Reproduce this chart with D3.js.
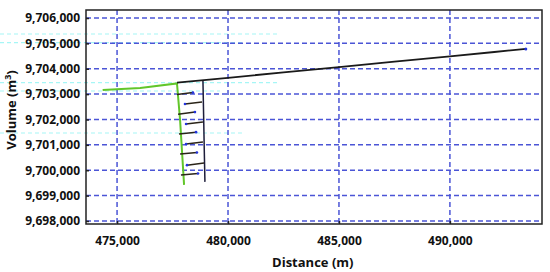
<!DOCTYPE html>
<html>
<head>
<meta charset="utf-8">
<script src="https://cdn.jsdelivr.net/npm/d3@7"></script>
<style>
  body { margin: 0; background: #fff; }
  svg { display: block; }
  text { font-family: "Open Sans", "Liberation Sans", sans-serif; font-weight: 700; fill: #111; }
</style>
</head>
<body>
<div class="canvas-container"></div>
<script>

// tick values
var xTicks = [475000, 480000, 485000, 490000];
var yTicks = [9698000, 9699000, 9700000, 9701000, 9702000, 9703000, 9704000, 9705000, 9706000];

// main channel (black)
var mainX = [477700, 480000, 482500, 485000, 487500, 490000, 492000, 493420];
var mainY = [9703450, 9703640, 9703860, 9704060, 9704280, 9704490, 9704660, 9704780];

// green inflow branch
var greenX = [474350, 476040, 477700, 477840, 477930, 478020];
var greenY = [9703160, 9703240, 9703420, 9701980, 9700700, 9699420];

// right-hand spine
var spineX = [478870, 478900, 478930, 478960];
var spineY = [9703550, 9702200, 9700800, 9699540];

// short cross ribs: start x, start y, end x, end y
var ribX1 = [477700, 478060, 477750, 478110, 477790, 478110, 477840, 478150, 477880];
var ribY1 = [9702980, 9702610, 9702210, 9701820, 9701430, 9701030, 9700640, 9700200, 9699810];
var ribX2 = [478420, 478830, 478510, 478870, 478560, 478870, 478600, 478920, 478650];
var ribY2 = [9703060, 9702690, 9702290, 9701900, 9701500, 9701110, 9700700, 9700280, 9699870];

var width = 550, height = 272;
var margin = {top: 10, right: 8, bottom: 48, left: 86};

var svg = d3.select("div.canvas-container")
    .append("svg")
    .attr("width", width)
    .attr("height", height);

var x = d3.scaleLinear().domain([473600, 494150]).range([margin.left, width - margin.right]);
var y = d3.scaleLinear().domain([9697880, 9706315]).range([height - margin.bottom, margin.top]);

// faint cyan scan artefacts seen in the picture
var artY = [34, 42.7, 82.7, 91, 133];
var artX = [280, 243, 280, 220, 245];
svg.selectAll(".art")
    .data(artY)
    .enter()
    .append("line")
    .attr("x1", 0)
    .attr("x2", function (d, i) { return artX[i]; })
    .attr("y1", function (d) { return d; })
    .attr("y2", function (d) { return d; })
    .attr("stroke", "#a6f6f6")
    .attr("stroke-width", 1.2)
    .attr("stroke-dasharray", "4,3");

// grid
svg.append("g")
    .selectAll("line")
    .data(yTicks)
    .enter()
    .append("line")
    .attr("x1", margin.left)
    .attr("x2", width - margin.right)
    .attr("y1", function (d) { return y(d); })
    .attr("y2", function (d) { return y(d); })
    .attr("stroke", "#4b55d6")
    .attr("stroke-width", 1.5)
    .attr("stroke-dasharray", "5,3");

svg.append("g")
    .selectAll("line")
    .data(xTicks)
    .enter()
    .append("line")
    .attr("x1", function (d) { return x(d); })
    .attr("x2", function (d) { return x(d); })
    .attr("y1", margin.top)
    .attr("y2", height - margin.bottom)
    .attr("stroke", "#4b55d6")
    .attr("stroke-width", 1.5)
    .attr("stroke-dasharray", "5,3");

// axes
var fmt = d3.format(",");
var yAxis = svg.append("g")
    .attr("transform", "translate(" + margin.left + ",0)")
    .call(d3.axisLeft(y).tickValues(yTicks).tickFormat(fmt).tickSize(-3).tickPadding(6));
var xAxis = svg.append("g")
    .attr("transform", "translate(0," + (height - margin.bottom) + ")")
    .call(d3.axisBottom(x).tickValues(xTicks).tickFormat(fmt).tickSize(-3).tickPadding(12));

[xAxis, yAxis].forEach(function (a) {
    a.select(".domain").remove();
    a.selectAll(".tick line").attr("stroke", "#222").attr("stroke-width", 1.5);
    a.selectAll("text").style("font-size", "12px").attr("fill", "#111");
});

svg.append("rect")
    .attr("x", margin.left)
    .attr("y", margin.top)
    .attr("width", width - margin.left - margin.right)
    .attr("height", height - margin.top - margin.bottom)
    .attr("fill", "none")
    .attr("stroke", "#222")
    .attr("stroke-width", 1.5);

// lines
var line = d3.line()
    .x(function (d) { return x(d[0]); })
    .y(function (d) { return y(d[1]); });

function pts(xs, ys) {
    return xs.map(function (v, i) { return [v, ys[i]]; });
}

svg.append("path")
    .attr("d", line(pts(greenX, greenY)))
    .attr("fill", "none")
    .attr("stroke", "#62c62a")
    .attr("stroke-width", 2);

svg.append("path")
    .attr("d", line(pts(spineX, spineY)))
    .attr("fill", "none")
    .attr("stroke", "#1d1d3a")
    .attr("stroke-width", 1.5);

svg.append("path")
    .attr("d", line(pts(mainX, mainY)))
    .attr("fill", "none")
    .attr("stroke", "#1a1a1a")
    .attr("stroke-width", 1.8);

svg.append("g")
    .selectAll("line")
    .data(ribX1)
    .enter()
    .append("line")
    .attr("x1", function (d) { return x(d); })
    .attr("y1", function (d, i) { return y(ribY1[i]); })
    .attr("x2", function (d, i) { return x(ribX2[i]); })
    .attr("y2", function (d, i) { return y(ribY2[i]); })
    .attr("stroke", "#2a2418")
    .attr("stroke-width", 1.5);

// blue end markers on ribs
svg.append("g")
    .selectAll("circle")
    .data(ribX1)
    .enter()
    .append("circle")
    .attr("cx", function (d, i) { return i % 2 ? x(d) : x(ribX2[i]); })
    .attr("cy", function (d, i) { return i % 2 ? y(ribY1[i]) : y(ribY2[i]); })
    .attr("r", 1.3)
    .attr("fill", "#2233dd");

svg.append("circle")
    .attr("cx", x(mainX[mainX.length - 1]))
    .attr("cy", y(mainY[mainY.length - 1]))
    .attr("r", 1.5)
    .attr("fill", "#2233dd");

// axis titles
svg.append("text")
    .attr("x", x(484000) - 4)
    .attr("y", 267)
    .attr("text-anchor", "middle")
    .style("font-size", "13px")
    .text("Distance (m)");

var yl = svg.append("text")
    .attr("transform", "translate(16,110) rotate(-90)")
    .attr("text-anchor", "middle")
    .style("font-size", "13px");
yl.append("tspan").text("Volume (m");
yl.append("tspan").attr("dy", -5).style("font-size", "9px").text("3");
yl.append("tspan").attr("dy", 5).text(")");

</script>
</body>
</html>
